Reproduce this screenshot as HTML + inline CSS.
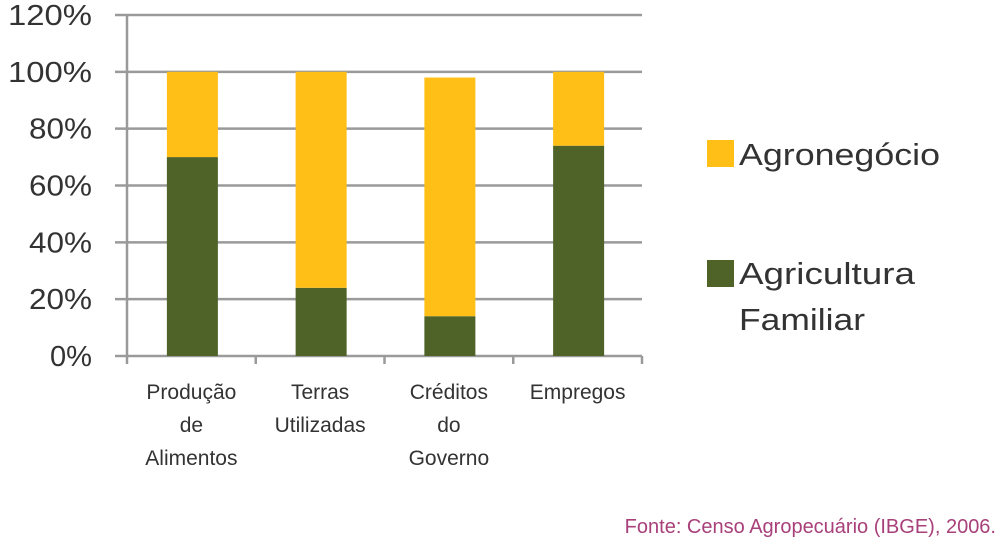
<!DOCTYPE html>
<html><head><meta charset="utf-8"><style>
body{margin:0;background:#fff;width:1000px;height:545px;overflow:hidden;font-family:"Liberation Sans",sans-serif;}
</style></head><body>
<svg id="chart" width="1000" height="545" xmlns="http://www.w3.org/2000/svg"></svg>
<script>
const categories=[["Produção","de","Alimentos"],["Terras","Utilizadas"],["Créditos","do","Governo"],["Empregos"]];
const familiar=[70,24,14,74];
const agro=[30,76,84,26];
const yTicks=[0,20,40,60,80,100,120];
const tickLabels=["0%","20%","40%","60%","80%","100%","120%"];
const svg=document.getElementById('chart');
const NS="http://www.w3.org/2000/svg";
const x0=127,x1=642,y0=356,pxPer=(356-15)/120;
const y=v=>y0-v*pxPer;
const bandW=(x1-x0)/categories.length;
const barW=51;
function mk(t,a,p){const e=document.createElementNS(NS,t);for(const k in a)e.setAttribute(k,a[k]);(p||svg).appendChild(e);return e;}
yTicks.forEach((v,i)=>{
 const g=mk('line',{x1:115,x2:x1,y1:y(v),y2:y(v),stroke:'#9a9a9a','stroke-width':2.5});
 
 
 const t=mk('text',{x:92,y:y(v)+10,'text-anchor':'end','font-size':29,fill:'#333','textLength':tickLabels[i].length*21,'lengthAdjust':'spacingAndGlyphs'});
 t.textContent=tickLabels[i];
 
 
});
const ax=mk('line',{x1:x0,x2:x0,y1:y(120),y2:364,stroke:'#9a9a9a','stroke-width':2.5});


for(let i=1;i<=categories.length;i++){
 const tk=mk('line',{x1:x0+i*bandW,x2:x0+i*bandW,y1:y0,y2:364,stroke:'#9a9a9a','stroke-width':2.5});
 
 
}
categories.forEach((c,i)=>{
 const cx=x0+bandW*(i+0.5);
 const bx=cx-barW/2+1;
 const r1=mk('rect',{x:bx,y:y(familiar[i]),width:barW,height:y0-y(familiar[i]),fill:'#4f6228'});
 
 
 const top=familiar[i]+agro[i];
 const r2=mk('rect',{x:bx,y:y(top),width:barW,height:y(familiar[i])-y(top),fill:'#ffbf16'});
 
 
 c.forEach((ln,j)=>{
  const t=mk('text',{x:cx,y:399+j*33,'text-anchor':'middle','font-size':21,fill:'#333'});
  t.textContent=ln;
  
  
 });
});
const l1=mk('rect',{x:707,y:140,width:27,height:27,fill:'#ffbf16'});


const lt1=mk('text',{x:739,y:165,'font-size':31,fill:'#333','textLength':201,'lengthAdjust':'spacingAndGlyphs'});lt1.textContent='Agronegócio';


const l2=mk('rect',{x:707,y:260,width:27,height:27,fill:'#4f6228'});


const lt2=mk('text',{x:739,y:284,'font-size':31,fill:'#333','textLength':176,'lengthAdjust':'spacingAndGlyphs'});lt2.textContent='Agricultura';


const lt3=mk('text',{x:739,y:330,'font-size':31,fill:'#333','textLength':126,'lengthAdjust':'spacingAndGlyphs'});lt3.textContent='Familiar';


const src=mk('text',{x:996,y:533,'text-anchor':'end','font-size':20,fill:'#a8407a'});
src.textContent='Fonte: Censo Agropecuário (IBGE), 2006.';


</script>
</body></html>
